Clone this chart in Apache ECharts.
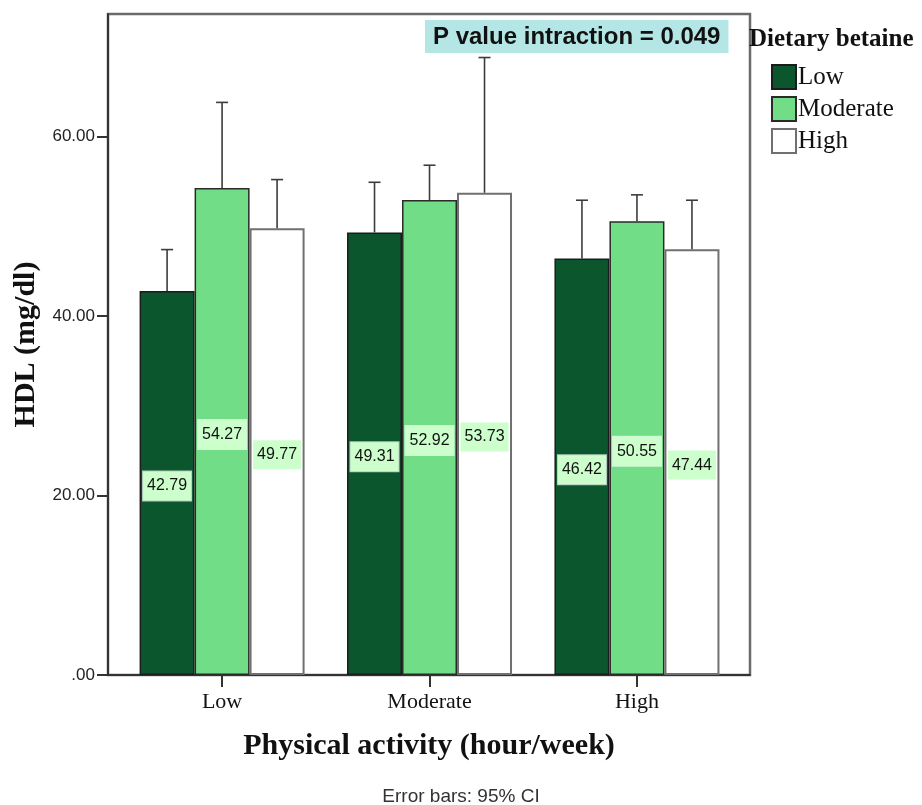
<!DOCTYPE html>
<html>
<head>
<meta charset="utf-8">
<script src="https://cdn.jsdelivr.net/npm/echarts@6.0.0/dist/echarts.min.js"></script>
<style>
  html, body { margin: 0; padding: 0; background: #fff; }
  #chart { width: 922px; height: 805px; }
</style>
</head>
<body>
<div id="chart"></div>
<script>
// physical activity groups (x axis)
const activityLevels = ['Low', 'Moderate', 'High'];
// dietary betaine groups (legend)
const betaineLevels = ['Low', 'Moderate', 'High'];
// mean HDL per betaine group, one value per activity group
const hdlLow = [42.79, 49.31, 46.42];
const hdlModerate = [54.27, 52.92, 50.55];
const hdlHigh = [49.77, 53.73, 47.44];
// upper end of 95% CI
const ciLow = [47.4, 54.9, 52.9];
const ciModerate = [63.8, 56.8, 53.5];
const ciHigh = [55.2, 68.8, 52.9];
const yTicks = [0, 20, 40, 60];

const means = [hdlLow, hdlModerate, hdlHigh];
const uppers = [ciLow, ciModerate, ciHigh];
const barColors = ['#0b562d', '#72dd87', '#ffffff'];
const barBorders = ['#1c1c1c', '#2a2a2a', '#707070'];
const barWidth = 55;

const chart = echarts.init(document.getElementById('chart'));

const barSeries = betaineLevels.map((name, s) => ({
  name: name,
  type: 'bar',
  barWidth: barWidth,
  barGap: '0%',
  data: means[s].map((v, i) => [i, v]),
  itemStyle: {
    color: barColors[s],
    borderColor: barBorders[s],
    borderWidth: s === 2 ? 2 : 1.5
  },
  label: {
    show: true,
    position: 'inside',
    offset: [0, 3],
    formatter: (p) => p.value[1].toFixed(2),
    fontFamily: 'Liberation Sans, Arial',
    fontSize: 16,
    color: '#111',
    backgroundColor: '#ccffcc',
    borderColor: 'rgba(255,255,255,0.7)',
    borderWidth: 1,
    padding: [7, 4, 6, 4]
  },
  z: 2
}));

// error bars (upper part only, lower part is hidden by the bar)
const errSeries = betaineLevels.map((name, s) => ({
  type: 'custom',
  name: 'ci' + s,
  data: means[s].map((v, i) => [i, v, uppers[s][i]]),
  z: 3,
  silent: true,
  renderItem: (params, api) => {
    const off = (s - 1) * barWidth;
    const base = api.coord([api.value(0), api.value(1)]);
    const top = api.coord([api.value(0), api.value(2)]);
    const x = base[0] + off;
    const st = { stroke: '#3c3c3c', lineWidth: 1.6 };
    return {
      type: 'group',
      children: [
        { type: 'line', shape: { x1: x, y1: base[1], x2: x, y2: top[1] }, style: st },
        { type: 'line', shape: { x1: x - 6, y1: top[1], x2: x + 6, y2: top[1] }, style: st }
      ]
    };
  }
}));

const option = {
  animation: false,
  backgroundColor: '#fff',
  title: [
    {
      text: 'P value intraction = 0.049',
      left: 425,
      top: 20,
      backgroundColor: '#b4e6e6',
      padding: [5, 8, 4, 8],
      textStyle: {
        fontFamily: 'Liberation Sans, Arial',
        fontWeight: 'bold',
        fontSize: 24,
        color: '#111'
      }
    },
    {
      text: 'Dietary betaine',
      left: 749,
      top: 27,
      padding: 0,
      textStyle: {
        fontFamily: 'Liberation Serif, Times New Roman',
        fontWeight: 'bold',
        fontSize: 25,
        color: '#111'
      }
    },
    {
      text: 'Error bars: 95% CI',
      left: 'center',
      top: 787,
      padding: 0,
      textStyle: {
        fontFamily: 'Liberation Sans, Arial',
        fontWeight: 'normal',
        fontSize: 19,
        color: '#333'
      }
    }
  ],
  legend: {
    data: betaineLevels,
    orient: 'vertical',
    left: 771,
    top: 64,
    itemWidth: 24,
    itemHeight: 24,
    itemGap: 6,
    padding: 0,
    icon: 'rect',
    textStyle: {
      fontFamily: 'Liberation Serif, Times New Roman',
      fontSize: 25,
      color: '#111',
      padding: [0, 0, 0, -3]
    }
  },
  grid: {
    left: 108,
    top: 14,
    right: 172,
    bottom: 130,
    show: true,
    borderColor: '#6a6a6a',
    borderWidth: 2.5
  },
  xAxis: {
    type: 'value',
    min: -0.55,
    max: 2.545,
    name: 'Physical activity (hour/week)',
    nameLocation: 'middle',
    nameGap: 56,
    nameTextStyle: {
      fontFamily: 'Liberation Serif, Times New Roman',
      fontWeight: 'bold',
      fontSize: 30,
      color: '#111'
    },
    splitLine: { show: false },
    axisLine: { show: true, onZero: false, lineStyle: { color: '#222', width: 1.5 } },
    axisTick: {
      show: true,
      length: 12,
      customValues: [0, 1, 2],
      lineStyle: { color: '#333', width: 2 }
    },
    axisLabel: {
      customValues: [0, 1, 2],
      margin: 16,
      formatter: (v) => activityLevels[Math.round(v)],
      fontFamily: 'Liberation Serif, Times New Roman',
      fontSize: 22,
      color: '#111'
    }
  },
  yAxis: {
    type: 'value',
    min: 0,
    max: 73.65,
    name: 'HDL (mg/dl)',
    nameLocation: 'middle',
    nameGap: 67,
    nameTextStyle: {
      fontFamily: 'Liberation Serif, Times New Roman',
      fontWeight: 'bold',
      fontSize: 30,
      color: '#111'
    },
    splitLine: { show: false },
    axisLine: { show: true, onZero: false, lineStyle: { color: '#222', width: 1.5 } },
    axisTick: {
      show: true,
      length: 11,
      customValues: yTicks,
      lineStyle: { color: '#333', width: 2 }
    },
    axisLabel: {
      customValues: yTicks,
      margin: 13,
      formatter: (v) => (v === 0 ? '.00' : v.toFixed(2)),
      fontFamily: 'Liberation Sans, Arial',
      fontSize: 17,
      color: '#222'
    }
  },
  series: barSeries.concat(errSeries)
};

chart.setOption(option);
</script>
</body>
</html>
